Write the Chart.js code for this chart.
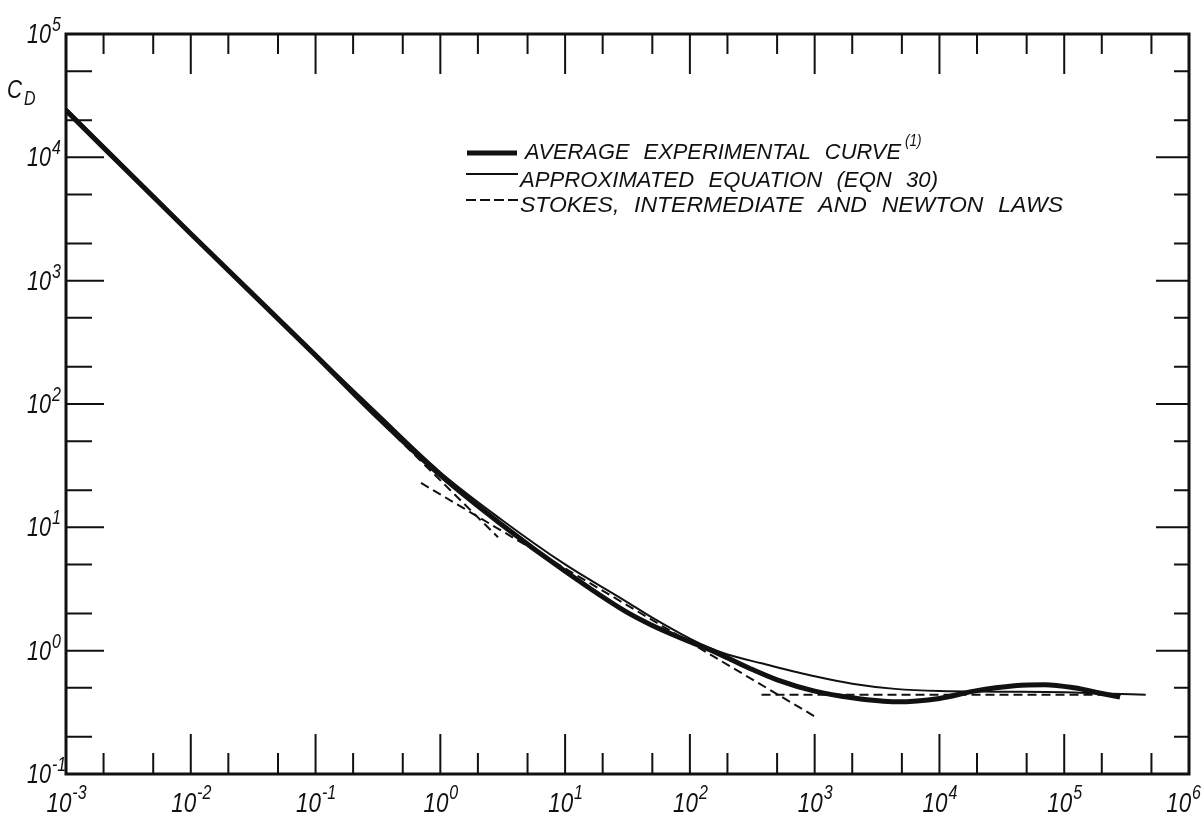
<!DOCTYPE html>
<html>
<head>
<meta charset="utf-8">
<script src="https://cdn.jsdelivr.net/npm/chart.js@4.4.1/dist/chart.umd.min.js"></script>
<style>
  html, body { margin: 0; padding: 0; background: #fff; }
  #wrap { width: 1202px; height: 816px; }
</style>
</head>
<body>
<div id="wrap"><canvas id="dragChart" width="1202" height="816"></canvas></div>
<script>
// Average experimental curve
const expRe = [0.001, 0.01, 0.1, 0.3, 1, 3, 10, 30, 50, 100, 141, 300, 500, 1000,
  2000, 4500, 10000, 19000, 40000, 70000, 120000, 200000, 280000];
const expCd = [24000, 2400, 248, 82, 26.5, 10.8, 4.4, 2.1, 1.6, 1.18, 1.03, 0.72, 0.58, 0.47,
  0.415, 0.385, 0.41, 0.47, 0.52, 0.53, 0.50, 0.45, 0.42];

// Approximated equation (EQN 30)
const eqnRe = [0.001, 0.01, 0.1, 0.3, 1, 3, 10, 30, 50, 100, 141, 200, 375, 1000, 2000,
  4400, 10000, 30000, 100000, 200000, 450000];
const eqnCd = [25000, 2450, 255, 88, 28, 11.8, 5.0, 2.55, 1.85, 1.25, 1.06, 0.93, 0.79, 0.62, 0.54,
  0.49, 0.47, 0.465, 0.46, 0.45, 0.44];

// Stokes, intermediate and Newton laws (straight segments, end points)
const stokesRe = [0.001, 2.9];
const stokesCd = [24000, 8.3];
const interRe = [0.7, 1000];
const interCd = [22.9, 0.293];
const newtonRe = [375, 300000];
const newtonCd = [0.44, 0.44];

// axis decades (exponents) and minor tick mantissas
const xExponents = [-3, -2, -1, 0, 1, 2, 3, 4, 5, 6];
const yExponents = [-1, 0, 1, 2, 3, 4, 5];
const minorMantissas = [2, 5];

const legendLabels = [
  "AVERAGE EXPERIMENTAL CURVE",
  "APPROXIMATED EQUATION (EQN 30)",
  "STOKES, INTERMEDIATE AND NEWTON LAWS",
];

const toPoints = (xs, ys) => xs.map((x, i) => ({ x: x, y: ys[i] }));

const INK = "#111";
const FONT = '"Liberation Sans", "DejaVu Sans", sans-serif';
const SX = 0.8; // hand lettering is narrow

// draw "10" with a raised exponent
function drawPower(ctx, exp, x, baseline, mode, size, supSize) {
  const sup = String(exp);
  ctx.font = "italic " + size + "px " + FONT;
  const wMain = ctx.measureText("10").width * SX;
  ctx.font = "italic " + supSize + "px " + FONT;
  const wSup = ctx.measureText(sup).width * SX;
  let x0;
  if (mode === "right") {
    x0 = x - wMain; // x is right edge of "10"
  } else {
    x0 = Math.min(x - (wMain + wSup) / 2, 1200 - wMain - wSup);
  }
  ctx.save();
  ctx.translate(x0, baseline);
  ctx.scale(SX, 1);
  ctx.font = "italic " + size + "px " + FONT;
  ctx.fillText("10", 0, 0);
  ctx.restore();
  ctx.save();
  ctx.translate(x0 + wMain + 1, baseline - size * 0.45);
  ctx.scale(SX, 1);
  ctx.font = "italic " + supSize + "px " + FONT;
  ctx.fillText(sup, 0, 0);
  ctx.restore();
}

function fitText(ctx, text, x, baseline, width, size) {
  ctx.font = "italic " + size + "px " + FONT;
  ctx.wordSpacing = "8px";
  const w = ctx.measureText(text).width;
  ctx.save();
  ctx.translate(x, baseline);
  ctx.scale(width / w, 1);
  ctx.fillText(text, 0, 0);
  ctx.restore();
  ctx.wordSpacing = "0px";
}

const framePlugin = {
  id: "frame",
  afterDraw(chart) {
    const ctx = chart.ctx;
    const a = chart.chartArea;
    const xs = chart.scales.x;
    const ys = chart.scales.y;
    ctx.save();
    ctx.strokeStyle = INK;
    ctx.fillStyle = INK;

    // tick marks, pointing inward
    ctx.lineWidth = 2;
    ctx.beginPath();
    xExponents.forEach((e) => {
      const px = xs.getPixelForValue(Math.pow(10, e));
      ctx.moveTo(px, a.bottom); ctx.lineTo(px, a.bottom - 40);
      ctx.moveTo(px, a.top); ctx.lineTo(px, a.top + 40);
      if (e < 6) {
        minorMantissas.forEach((m) => {
          const mx = xs.getPixelForValue(m * Math.pow(10, e));
          ctx.moveTo(mx, a.bottom); ctx.lineTo(mx, a.bottom - 21);
          ctx.moveTo(mx, a.top); ctx.lineTo(mx, a.top + 20);
        });
      }
    });
    yExponents.forEach((e) => {
      const py = ys.getPixelForValue(Math.pow(10, e));
      ctx.moveTo(a.left, py); ctx.lineTo(a.left + 38, py);
      ctx.moveTo(a.right, py); ctx.lineTo(a.right - 33, py);
      if (e < 5) {
        minorMantissas.forEach((m) => {
          const my = ys.getPixelForValue(m * Math.pow(10, e));
          ctx.moveTo(a.left, my); ctx.lineTo(a.left + 26, my);
          ctx.moveTo(a.right, my); ctx.lineTo(a.right - 15, my);
        });
      }
    });
    ctx.stroke();

    // frame
    ctx.lineWidth = 3;
    ctx.strokeRect(a.left, a.top, a.right - a.left, a.bottom - a.top);

    // tick labels
    ctx.textBaseline = "alphabetic";
    ctx.textAlign = "left";
    xExponents.forEach((e) => {
      const px = xs.getPixelForValue(Math.pow(10, e));
      drawPower(ctx, e, px, a.bottom + 38, "center", 28, 20);
    });
    yExponents.forEach((e) => {
      const py = ys.getPixelForValue(Math.pow(10, e));
      drawPower(ctx, e, a.left - 15, py + 9, "right", 27, 20);
    });

    // axis title C_D
    ctx.save();
    ctx.translate(7, 98); ctx.scale(SX, 1);
    ctx.font = "italic 26px " + FONT;
    ctx.fillText("C", 0, 0);
    ctx.restore();
    ctx.save();
    ctx.translate(24, 105); ctx.scale(SX, 1);
    ctx.font = "italic 20px " + FONT;
    ctx.fillText("D", 0, 0);
    ctx.restore();

    // legend
    ctx.lineCap = "butt";
    ctx.lineWidth = 5;
    ctx.beginPath(); ctx.moveTo(467, 153); ctx.lineTo(517, 153); ctx.stroke();
    ctx.lineWidth = 2;
    ctx.beginPath(); ctx.moveTo(466, 174); ctx.lineTo(518, 174); ctx.stroke();
    ctx.setLineDash([10, 4]);
    ctx.beginPath(); ctx.moveTo(466, 200); ctx.lineTo(522, 200); ctx.stroke();
    ctx.setLineDash([]);

    fitText(ctx, legendLabels[0], 525, 159, 376, 22);
    ctx.save();
    ctx.translate(905, 146); ctx.scale(SX, 1);
    ctx.font = "italic 17px " + FONT;
    ctx.fillText("(1)", 0, 0);
    ctx.restore();
    fitText(ctx, legendLabels[1], 520, 187, 418, 22);
    fitText(ctx, legendLabels[2], 520, 212, 543, 22);

    ctx.restore();
  },
};

const dashedStyle = {
  borderColor: INK,
  borderWidth: 2,
  borderDash: [9, 5],
  tension: 0,
  pointRadius: 0,
  fill: false,
};

new Chart(document.getElementById("dragChart"), {
  type: "line",
  data: {
    datasets: [
      {
        label: legendLabels[0],
        data: toPoints(expRe, expCd),
        borderColor: INK,
        borderWidth: 5,
        cubicInterpolationMode: "monotone",
        pointRadius: 0,
        fill: false,
      },
      {
        label: legendLabels[1],
        data: toPoints(eqnRe, eqnCd),
        borderColor: INK,
        borderWidth: 2,
        cubicInterpolationMode: "monotone",
        pointRadius: 0,
        fill: false,
      },
      Object.assign({ label: "Stokes", data: toPoints(stokesRe, stokesCd) }, dashedStyle),
      Object.assign({ label: "Intermediate", data: toPoints(interRe, interCd) }, dashedStyle),
      Object.assign({ label: "Newton", data: toPoints(newtonRe, newtonCd) }, dashedStyle),
    ],
  },
  options: {
    responsive: false,
    animation: false,
    layout: { padding: { top: 34, right: 13, left: 0, bottom: 0 } },
    plugins: { legend: { display: false }, tooltip: { enabled: false } },
    scales: {
      x: {
        type: "logarithmic",
        min: 0.001,
        max: 1000000,
        grid: { display: false },
        border: { display: false },
        ticks: { display: false },
        afterFit: (s) => { s.height = 42; s.paddingLeft = 0; s.paddingRight = 0; },
      },
      y: {
        type: "logarithmic",
        min: 0.1,
        max: 100000,
        grid: { display: false },
        border: { display: false },
        ticks: { display: false },
        afterFit: (s) => { s.width = 66; s.paddingTop = 0; s.paddingBottom = 0; },
      },
    },
  },
  plugins: [framePlugin],
});
</script>
</body>
</html>
